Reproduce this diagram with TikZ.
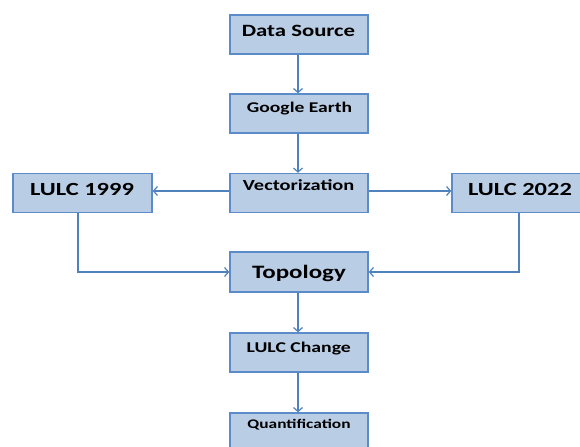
\documentclass[tikz,border=0pt]{standalone}
\usepackage{fontspec}
\setmainfont{Carlito}
\usetikzlibrary{arrows.meta,calc}
\definecolor{boxfill}{HTML}{B9CDE5}
\definecolor{boxline}{HTML}{5B8BC8}
\definecolor{arrline}{HTML}{4F81BD}
\newcommand{\wtxt}[2]{\fontsize{#1}{#1}\selectfont\bfseries\scalebox{1.32}[1]{#2}}
\tikzset{
  box/.style={draw=boxline, line width=1.4pt, fill=boxfill, minimum width=138bp, minimum height=39bp, inner sep=0pt},
  lbl/.style={text=black, inner sep=0pt, anchor=base},
  arr/.style={draw=arrline, line width=1.4pt, -{Straight Barb[length=4bp,width=9bp,line width=1.2pt]}},
}
\begin{document}
\begin{tikzpicture}[x=1bp,y=-1bp]
\useasboundingbox (0,0) rectangle (580,447);
\clip (0,0) rectangle (580,447);
\node[box] (ds) at (299,34.5) {};
\node[box] (ge) at (299,113.5) {};
\node[box] (vec) at (299,193) {};
\node[box, minimum width=139bp] (l99) at (82.5,193) {};
\node[box] (l22) at (521,193) {};
\node[box, minimum height=40bp] (top) at (299,272) {};
\node[box] (lc) at (299,352.5) {};
\node[box] (q) at (299,432.5) {};
\node[lbl] (tds) at (298.5,36.3) {\wtxt{17.3}{Data Source}};
\node[lbl] (tge) at (299.5,112.7) {\wtxt{14.9}{Google Earth}};
\node[lbl] (tvec) at (298.7,190.7) {\wtxt{15.5}{Vectorization}};
\node[lbl] (tl99) at (82,195.3) {\wtxt{18.6}{LULC 1999}};
\node[lbl] (tl22) at (520,195.3) {\wtxt{18.6}{LULC 2022}};
\node[lbl] (ttop) at (299,279) {\wtxt{19}{Topology}};
\node[lbl] (tlc) at (298.8,352.7) {\wtxt{15}{LULC Change}};
\node[lbl] (tq) at (299,428.3) {\wtxt{13.2}{Quantification}};
\draw[arr] ([xshift=-1bp]ds.south) -- ([xshift=-1bp]ge.north);
\draw[arr] ([xshift=-1bp]ge.south) -- ([xshift=-1bp]vec.north);
\draw[arr] ([yshift=2bp]vec.west) -- ([yshift=2bp]l99.east);
\draw[arr] ([yshift=2bp]vec.east) -- ([yshift=2bp]l22.west);
\draw[arr] ([xshift=-4.5bp]l99.south) |- (top.west);
\draw[arr] ([xshift=-2bp]l22.south) |- (top.east);
\draw[arr] ([xshift=-1bp]top.south) -- ([xshift=-1bp]lc.north);
\draw[arr] ([xshift=-1bp]lc.south) -- ([xshift=-1bp]q.north);
\end{tikzpicture}
\end{document}
